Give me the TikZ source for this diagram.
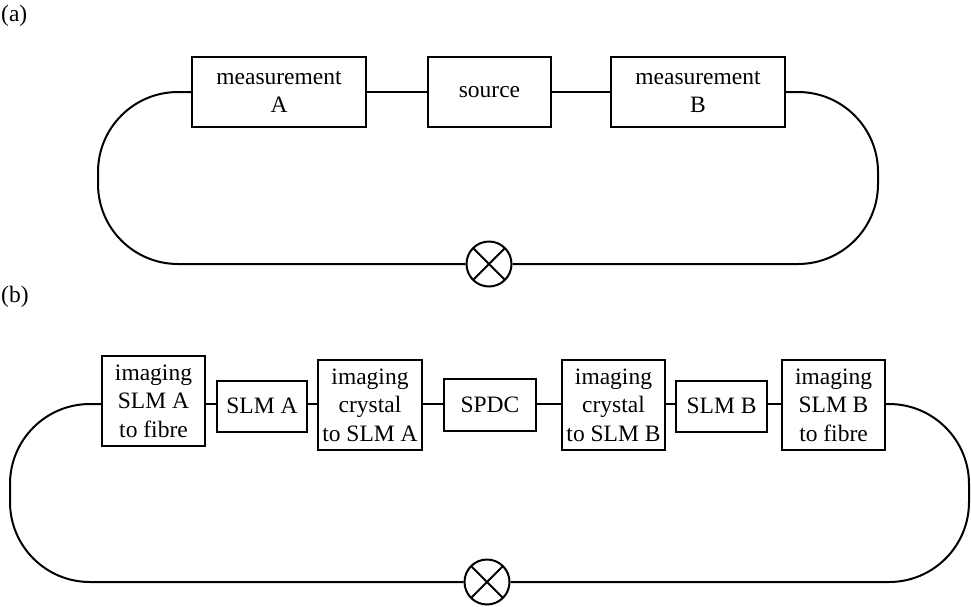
\documentclass[tikz,border=0pt]{standalone}
\usepackage{fontspec}
\setmainfont{Liberation Serif}
\begin{document}
\begin{tikzpicture}[x=1pt,y=-1pt,
  every node/.style={font=\fontsize{23.5}{28.5}\selectfont},
  blk/.style={draw,line width=2pt,inner sep=0pt,align=center,minimum height=#1},
  blk/.default=70,
  wire/.style={line width=2pt},
  det/.style={draw,circle,line width=2pt,minimum size=45pt,inner sep=0pt,
    path picture={\draw[line width=2pt] (path picture bounding box.north west) -- (path picture bounding box.south east)
      (path picture bounding box.north east) -- (path picture bounding box.south west);}},
  lbl/.style={anchor=west,inner sep=0pt}]
\useasboundingbox (0,0) rectangle (971,606);
% panel (a)
\node[lbl] (la) at (1,16) {(a)};
\node[blk,minimum width=174pt] (mA) at (279,92) {measurement\\A};
\node[blk,minimum width=123pt] (src) at (489.5,92) {source};
\node[blk,minimum width=174pt] (mB) at (698,92) {measurement\\B};
\node[det] (ca) at (489,264) {};
\draw[wire] (mA) -- (src);
\draw[wire] (src) -- (mB);
\coordinate (aL1) at (98,92);
\coordinate (aL2) at (98,264);
\coordinate (aR1) at (878,92);
\coordinate (aR2) at (878,264);
\draw[wire,rounded corners=80pt] (mA.west) -- (aL1) -- (aL2) -- (ca.west);
\draw[wire,rounded corners=80pt] (mB.east) -- (aR1) -- (aR2) -- (ca.east);
% panel (b)
\node[lbl] (lb) at (1,297) {(b)};
\node[blk=90pt,minimum width=103pt] (b1) at (153.5,401) {imaging\\SLM A\\to fibre};
\node[blk=51pt,minimum width=90pt] (b2) at (262,406) {SLM A};
\node[blk=90pt,minimum width=104pt] (b3) at (370,405) {imaging\\crystal\\to SLM A};
\node[blk=52pt,minimum width=92pt] (b4) at (490,405) {SPDC};
\node[blk=90pt,minimum width=103pt] (b5) at (613.5,405) {imaging\\crystal\\to SLM B};
\node[blk=51pt,minimum width=91pt] (b6) at (721.5,406) {SLM B};
\node[blk=90pt,minimum width=103pt] (b7) at (833.5,405) {imaging\\SLM B\\to fibre};
\node[det] (cb) at (487,582) {};
\coordinate (y0) at (0,404);
\draw[wire] (b1.east |- y0) -- (b2.west |- y0);
\draw[wire] (b2.east |- y0) -- (b3.west |- y0);
\draw[wire] (b3.east |- y0) -- (b4.west |- y0);
\draw[wire] (b4.east |- y0) -- (b5.west |- y0);
\draw[wire] (b5.east |- y0) -- (b6.west |- y0);
\draw[wire] (b6.east |- y0) -- (b7.west |- y0);
\coordinate (bL1) at (10,404);
\coordinate (bL2) at (10,582);
\coordinate (bR1) at (969,404);
\coordinate (bR2) at (969,582);
\draw[wire,rounded corners=80pt] (b1.west |- y0) -- (bL1) -- (bL2) -- (cb.west);
\draw[wire,rounded corners=80pt] (b7.east |- y0) -- (bR1) -- (bR2) -- (cb.east);
\end{tikzpicture}
\end{document}
